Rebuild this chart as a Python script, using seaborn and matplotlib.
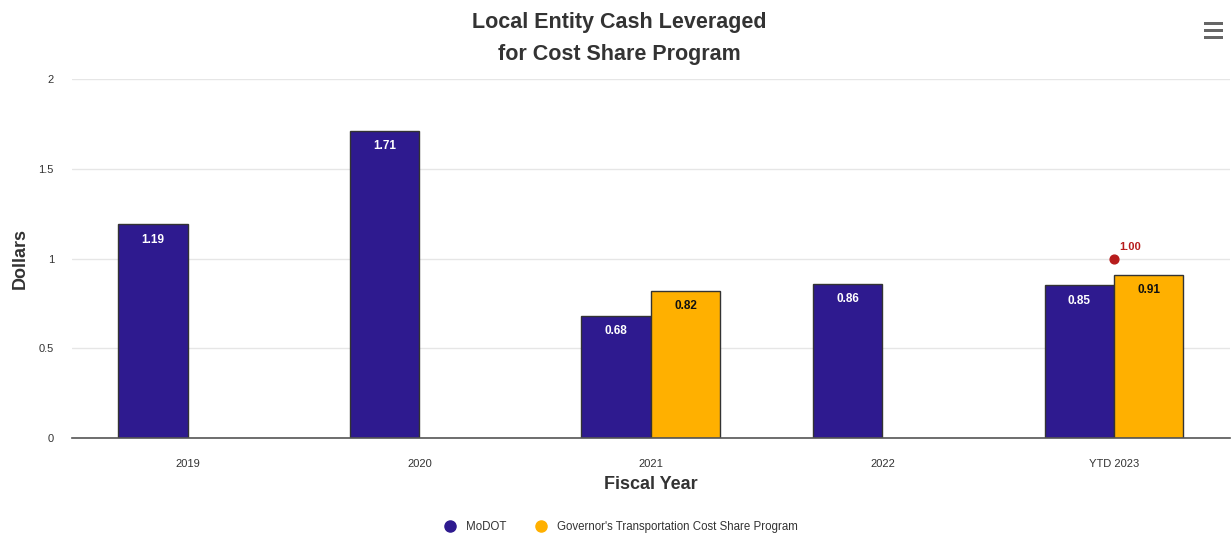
import matplotlib
matplotlib.use("Agg")
import matplotlib.pyplot as plt
import seaborn as sns
import pandas as pd
import numpy as np
from matplotlib.patches import Rectangle
from matplotlib.lines import Line2D

categories = ["2019", "2020", "2021", "2022", "YTD 2023"]
modot = [1.19, 1.71, 0.68, 0.86, 0.85]
gov = [None, None, 0.82, None, 0.91]
target_category = "YTD 2023"
target_value = 1.00
series_names = ["MoDOT", "Governor's Transportation Cost Share Program"]
colors = ["#2e1a8f", "#ffb000"]

rows = []
for c, v in zip(categories, modot):
    if v is not None:
        rows.append({"Year": c, "Series": series_names[0], "Value": v})
for c, v in zip(categories, gov):
    if v is not None:
        rows.append({"Year": c, "Series": series_names[1], "Value": v})
df = pd.DataFrame(rows)

sns.set_theme(style="white")
plt.rcParams["font.family"] = ["Liberation Sans", "DejaVu Sans"]

fig = plt.figure(figsize=(12.31, 5.36), dpi=100)
ax = fig.add_axes([0.0585, 0.1828, 0.9405, 0.6698])

sns.barplot(data=df, x="Year", y="Value", hue="Series", order=categories,
            hue_order=series_names, palette=colors, saturation=1, width=0.6, dodge=True,
            edgecolor="#333333", linewidth=1, ax=ax, legend=False)

ax.set_xlim(-0.5, len(categories) - 0.5)
ax.set_ylim(0, 2)
ax.set_yticks([0, 0.5, 1, 1.5, 2])
ax.set_yticklabels(["0", "0.5", "1", "1.5", "2"])
ax.grid(axis="y", color="#e6e6e6", linewidth=1)
ax.set_axisbelow(True)
for s in ["top", "right", "left"]:
    ax.spines[s].set_visible(False)
ax.spines["bottom"].set_color("#555555")
ax.spines["bottom"].set_linewidth(1.2)
ax.tick_params(axis="both", length=0, labelsize=8, colors="#333333")
ax.tick_params(axis="x", pad=15)
ax.tick_params(axis="y", pad=13)
ax.set_xlabel("Fiscal Year", fontsize=13, fontweight="bold", color="#333333", labelpad=5)
ax.set_ylabel("Dollars", fontsize=13, fontweight="bold", color="#333333", labelpad=7)

# value labels
for container, tcolor in zip(ax.containers, ["white", "#111111"]):
    for bar in container:
        h = bar.get_height()
        if h is None or np.isnan(h) or h == 0:
            continue
        ax.annotate(f"{h:.2f}", (bar.get_x() + bar.get_width() / 2, h),
                    xytext=(0, -11), textcoords="offset points", ha="center", va="center",
                    fontsize=8.5, fontweight="bold", color=tcolor)

# target point
tx = categories.index(target_category)
ax.scatter([tx], [target_value], s=40, color="#b71c1c", zorder=5)
ax.annotate(f"{target_value:.2f}", (tx, target_value), xytext=(4, 8), textcoords="offset points",
            ha="left", va="center", fontsize=8, fontweight="bold", color="#b71c1c")

fig.text(0.503, 0.958, "Local Entity Cash Leveraged", ha="center", va="center",
         fontsize=15.5, fontweight="bold", color="#333333")
fig.text(0.503, 0.899, "for Cost Share Program", ha="center", va="center",
         fontsize=15.5, fontweight="bold", color="#333333")

# legend
handles = [Line2D([0], [0], marker="o", linestyle="", markersize=8, markerfacecolor=c,
                  markeredgecolor=c) for c in colors]
fig.legend(handles, series_names, loc="center", bbox_to_anchor=(0.502, 0.017), ncol=2,
           frameon=False, fontsize=8.3, handletextpad=0.4, columnspacing=2.0,
           labelcolor="#333333")

# menu icon
for yy in [0.953, 0.940, 0.927]:
    fig.add_artist(Rectangle((0.978, yy), 0.0155, 0.0065, transform=fig.transFigure,
                             color="#666666", linewidth=0))

fig.savefig("out.png", dpi=100)
